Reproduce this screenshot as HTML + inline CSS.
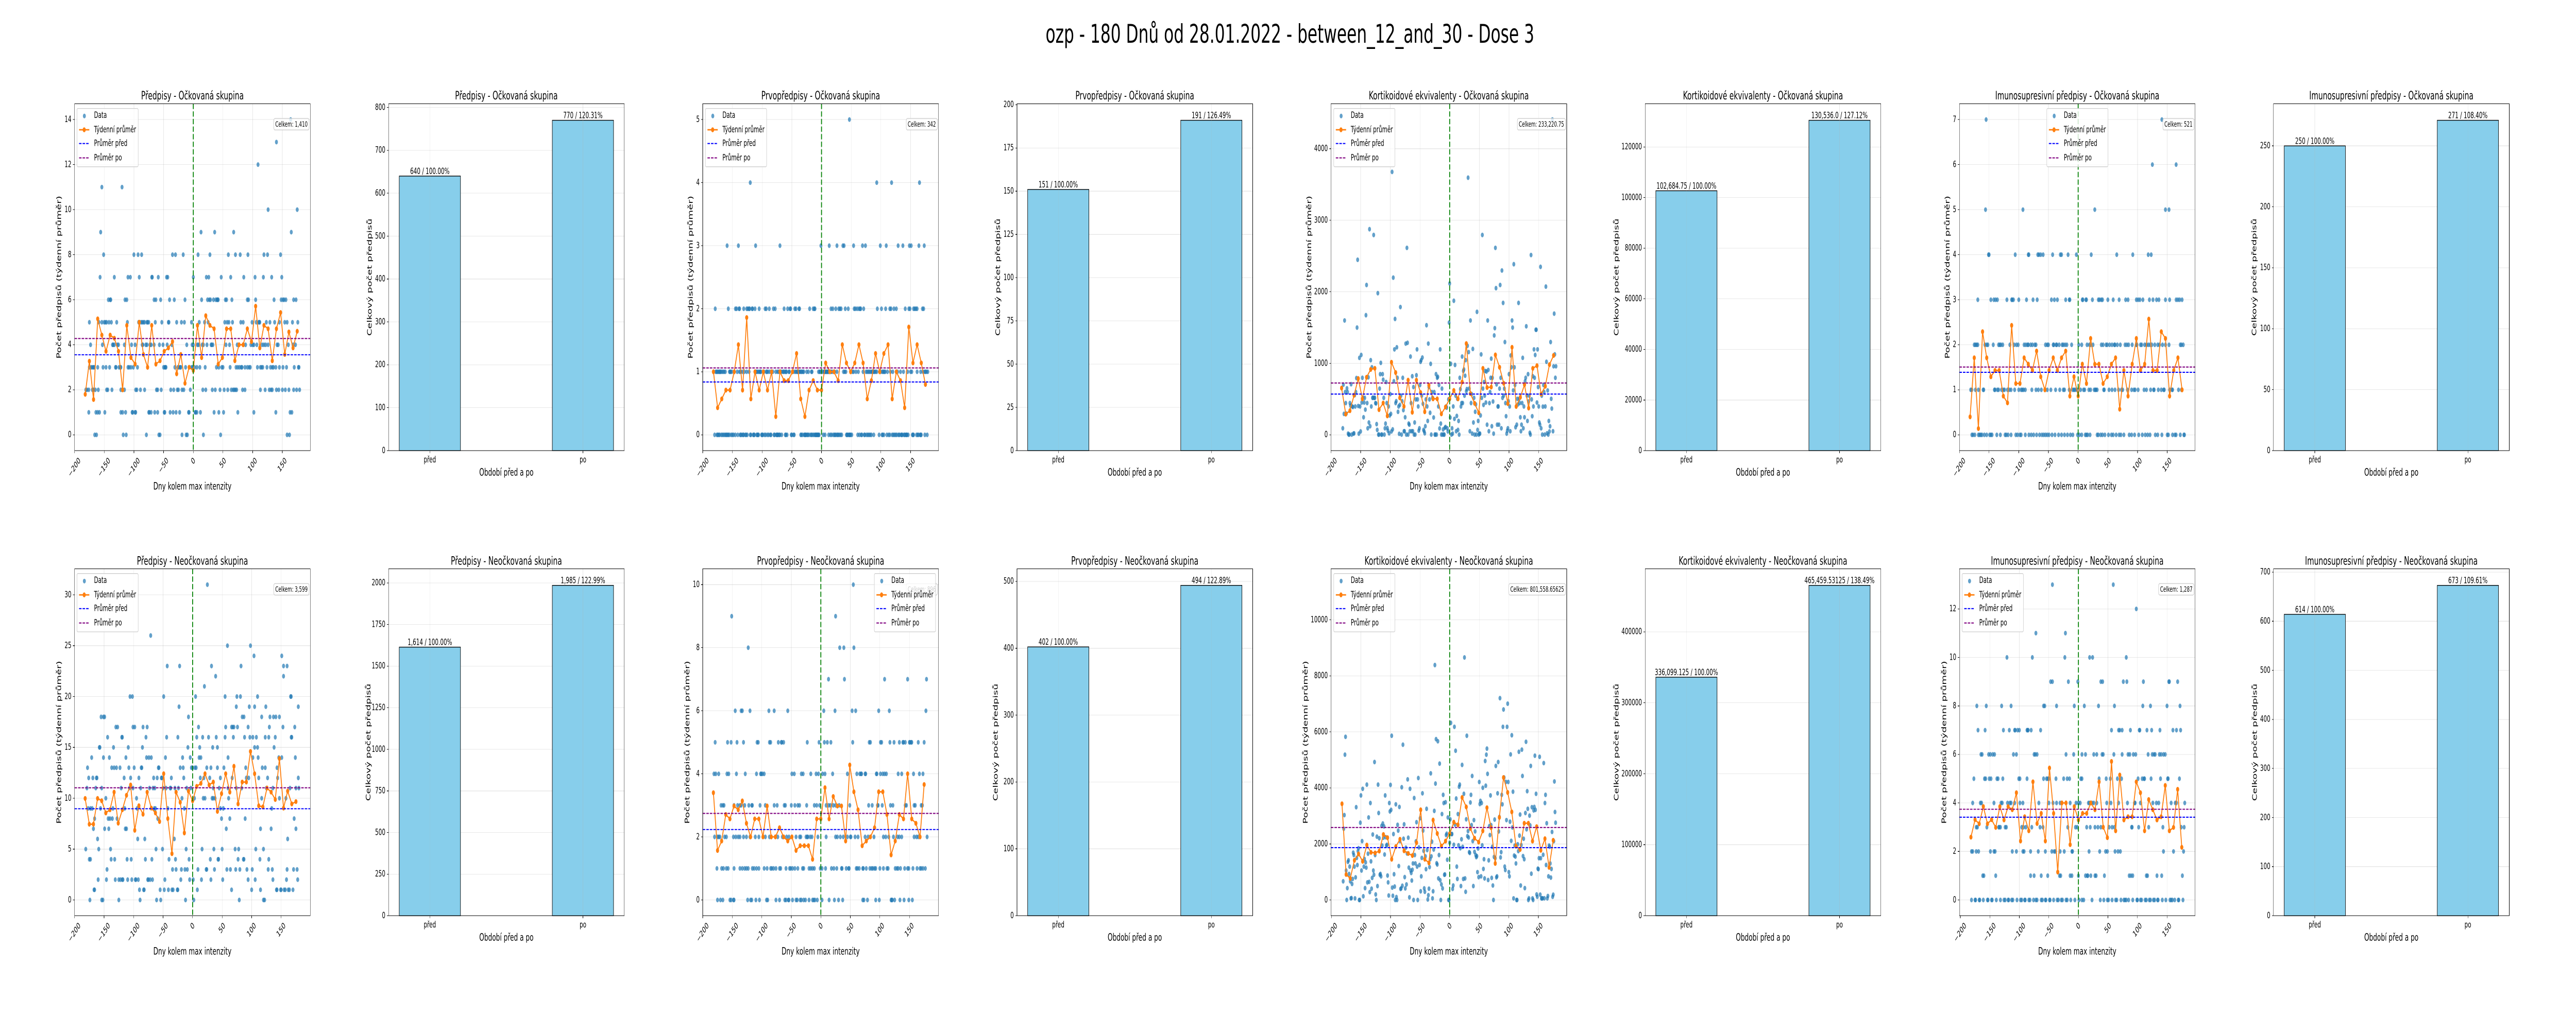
<!DOCTYPE html>
<html lang="cs">
<head>
<meta charset="utf-8">
<meta name="viewport" content="width=8000">
<title>ozp - 180 Dnů od 28.01.2022 - between_12_and_30 - Dose 3</title>
<style>
html,body{margin:0;padding:0;background:#fff;width:100%;height:100%;overflow:hidden}
svg{display:block;width:100vw;height:100vh}
text{font-family:"DejaVu Sans","Liberation Sans",sans-serif;fill:#000}
</style>
</head>
<body>
<svg id="figure" xmlns="http://www.w3.org/2000/svg" viewBox="0 0 8000 2000" preserveAspectRatio="none">
<rect x="0" y="0" width="8000" height="2000" fill="#fff"/>
<text x="4006" y="83" font-size="50" text-anchor="middle">ozp - 180 Dnů od 28.01.2022 - between_12_and_30 - Dose 3</text>
</svg>
<script>
/* ---------- shared categories and ticks ---------- */
const weekDays=[-182,-175,-168,-161,-154,-147,-140,-133,-126,-119,-112,-105,-98,-91,-84,-77,-70,-63,-56,-49,-42,-35,-28,-21,-14,-7,0,7,14,21,28,35,42,49,56,63,70,77,84,91,98,105,112,119,126,133,140,147,154,161,168,175];
const xTickValues=[-200,-150,-100,-50,0,50,100,150];
const periods=["před","po"];
const daysPerPeriod=[180];
const legendLabels=["Data","Týdenní průměr","Průměr před","Průměr po"];

/* ---------- Předpisy - Očkovaná ---------- */
const rxVacLevels=[14,13,12,11,10,9,8,7,6,5,4,3,2,1,0];
const rxVacDays=[
[164],[140],[109],[-154,-120],[126,175],[-156,13,36,68,165],
[-151,-100,-93,-87,-35,-30,-17,8,28,59,71,79,92,119,125,147],
[-157,-133,-110,-106,-91,-70,-69,-59,-45,-43,0,22,26,47,63,85,104,118,132,149],
[-143,-140,-139,-115,-112,-66,-63,-55,-40,-32,-14,14,24,27,29,34,38,40,41,42,54,56,65,91,93,105,136,148,151,153,156,169,173],
[-175,-159,-154,-150,-148,-146,-142,-138,-129,-111,-92,-88,-86,-84,-82,-78,-77,-75,-64,-53,-42,-41,-28,-20,-15,-3,10,19,25,53,57,60,66,80,84,99,106,110,111,112,123,129,137,145,154,158,167,176],
[-173,-153,-136,-135,-133,-128,-126,-116,-104,-98,-86,-85,-80,-78,-73,-71,-66,-57,-51,-44,-36,-11,-2,0,7,9,15,17,23,30,31,33,55,61,74,84,88,97,100,102,107,116,119,122,126,141,143,160,168,172],
[-175,-172,-170,-168,-167,-161,-152,-147,-141,-131,-130,-125,-123,-122,-110,-108,-105,-101,-94,-77,-50,-48,-47,-46,-31,-26,-24,-22,-21,-13,-3,-1,2,6,11,20,39,43,48,50,62,72,75,78,81,82,87,91,94,96,108,113,115,117,124,130,133,135,139,145,151,157,170,177,178],
[-181,-179,-176,-170,-168,-165,-160,-146,-144,-137,-122,-116,-97,-95,-89,-82,-62,-60,-54,-38,-33,-27,-25,-19,-16,-5,16,21,32,37,45,52,58,64,67,69,71,73,83,87,113,121,128,131,133,140,144,150,155,161,169,174,179],
[-176,-164,-161,-158,-149,-122,-119,-114,-103,-102,-98,-97,-75,-74,-71,-65,-60,-49,-48,-39,-34,-29,-23,-8,-7,3,4,6,12,35,43,51,75,102,139,163,166],
[-166,-163,-118,-113,-79,-58,-56,-19,-12,-10,17,46,158,162]
];
const rxVacWeekly=[1.8,3.27,1.57,5.15,4.43,3.71,4.43,4.29,3.71,2,4.86,3.43,3.14,5,3.57,3,4.86,3.14,3.29,3.71,3.86,4.14,2.71,3.57,2.29,3,2.86,4.86,3.43,5.29,4.86,4.71,3.14,3.43,4.71,4.71,3.29,4,4,4.71,4.14,5.71,3.86,4.86,4.71,3.29,4.71,5.43,3.57,4.57,3.86,4.6];
const rxVacTicks=[0,2,4,6,8,10,12,14];
const rxVacTotals=[640,770];
const rxVacTotalTicks=[0,100,200,300,400,500,600,700,800];
const rxVacBarLabels=["640 / 100.00%","770 / 120.31%"];

/* ---------- Prvopředpisy - Očkovaná ---------- */
const firstVacLevels=[5,4,3,2,1,0];
const firstVacDays=[
[47],[-120,93,118,165],
[-159,-140,-111,-70,-1,13,26,36,38,54,69,74,99,109,129,137,148,151,164,173],
[-179,-157,-145,-143,-139,-138,-131,-126,-124,-122,-121,-117,-116,-112,-105,-95,-93,-88,-81,-78,-63,-57,-53,-52,-45,-43,-38,-37,-20,-14,-12,-11,16,19,24,29,31,33,40,45,55,57,60,63,65,66,71,94,101,108,115,117,122,126,141,147,149,155,157,159,161,170,172],
[-178,-177,-175,-174,-172,-171,-170,-168,-166,-164,-162,-155,-154,-153,-151,-147,-142,-138,-136,-133,-130,-126,-122,-111,-110,-108,-106,-104,-103,-102,-97,-93,-92,-90,-87,-84,-82,-77,-74,-72,-69,-68,-65,-64,-62,-60,-59,-55,-54,-48,-45,-43,-41,-40,-39,-37,-36,-34,-33,-31,-30,-25,-22,-17,-16,-5,-3,-2,2,4,5,6,7,8,9,10,11,12,14,16,18,22,26,37,39,41,52,54,58,62,70,75,77,79,81,83,85,86,88,89,91,93,98,100,103,104,106,107,111,116,120,128,133,138,145,150,152,161,167,171,174,175,177,179],
[-180,-176,-175,-173,-172,-169,-167,-165,-163,-161,-160,-158,-157,-155,-152,-150,-148,-145,-141,-137,-136,-134,-132,-131,-128,-127,-125,-120,-119,-115,-114,-113,-109,-108,-107,-106,-101,-100,-99,-96,-94,-91,-89,-86,-85,-80,-79,-76,-75,-74,-73,-71,-70,-67,-61,-60,-58,-51,-50,-47,-46,-35,-34,-32,-29,-28,-27,-26,-24,-23,-21,-18,-17,-15,-13,-11,-10,-9,-8,-7,-6,-5,-4,3,6,12,15,17,20,22,23,25,27,28,30,32,34,42,43,44,46,47,48,49,51,61,64,67,68,72,73,76,78,80,82,84,88,97,102,103,105,110,113,115,119,121,123,125,127,130,131,134,135,136,139,140,142,143,144,146,153,154,155,160,162,163,166,167,168,174,178]
];
const firstVacWeekly=[1,0.43,0.57,0.71,0.71,1,1.43,0.71,1.86,0.57,1,0.71,1,0.71,1,0.29,1,0.86,0.86,1,1.29,0.57,0.29,0.71,0.86,0.71,0.71,1.14,1,1,0.86,1.43,1.14,1,1.14,1.43,1.14,0.57,0.86,1.29,1,1.29,1.43,0.57,1,0.86,0.43,1.71,1.14,1.43,1.14,0.8];
const firstVacTicks=[0,1,2,3,4,5];
const firstVacTotals=[151,191];
const firstVacTotalTicks=[0,25,50,75,100,125,150,175,200];
const firstVacBarLabels=["151 / 100.00%","191 / 126.49%"];

/* ---------- Kortikoidové ekvivalenty - Očkovaná (one value per day from -180) ---------- */
const steroidVacDaily=[
92,702,294,1599,599,445,298,651,599,18,4,4,445,408,709,4,397,390,18,22,555,397,599,794,1500,2448,404,18,1077,397,
48,1117,452,798,518,246,452,518,353,1673,2095,445,92,805,173,2875,121,1044,397,945,518,520,2794,518,518,445,440,151,70,1981,
4,4,647,849,1007,4,4,849,772,518,4,92,158,739,445,96,59,397,22,272,570,294,48,3676,77,2198,750,1195,1621,445,
471,1224,798,323,397,15,419,1787,548,4,471,798,346,51,51,246,1276,4,2614,1287,4,158,143,51,1095,445,51,820,51,669,
4,173,4,496,834,1195,496,397,59,92,698,1022,1044,548,1081,434,70,51,22,121,496,1533,397,195,1276,669,496,309,993,4,
599,518,510,243,599,4,4,849,4,798,812,397,698,90,1195,158,4,647,4,77,4,4,100,110,397,380,92,48,496,1570,
2117,243,993,4,92,18,397,1875,224,978,548,51,265,504,70,195,4,798,640,397,445,1095,445,893,915,548,827,1044,610,640,
1246,3595,1158,647,51,1599,445,570,18,1202,173,518,4,323,426,4,1720,70,195,4,18,18,272,1125,518,2794,647,419,739,548,
893,452,886,143,1599,908,51,445,599,798,1066,121,798,467,18,1390,1492,2614,2051,706,143,397,397,143,647,2095,798,92,2298,518,
1845,548,647,1298,445,261,18,59,92,471,849,397,51,1110,945,1599,1500,621,2386,945,698,107,397,143,504,426,1845,504,445,246,
51,143,445,1077,92,397,246,750,798,1518,548,195,849,467,548,29,4,2514,496,261,820,397,1195,798,1117,1470,1470,452,1195,669,
397,173,143,2349,92,548,4,395,698,599,4,397,2073,1022,22,621,4,195,48,120,1298,504,368,4408,51,959,1695,1125,798,959
];
const steroidVacWeekly=[654,290,338,555,787,504,805,915,930,353,445,265,1015,871,518,397,765,316,765,592,323,695,504,504,294,390,504,621,504,739,1276,577,441,309,930,662,669,1118,945,721,437,1224,397,526,702,375,930,967,570,680,982,1110];
const steroidVacTicks=[0,1000,2000,3000,4000];
const steroidVacTotals=[102684.75,130536];
const steroidVacTotalTicks=[0,20000,40000,60000,80000,100000,120000];
const steroidVacBarLabels=["102,684.75 / 100.00%","130,536.0 / 127.12%"];

/* ---------- Imunosupresivní předpisy - Očkovaná ---------- */
const immunoVacLevels=[7,6,5,4,3,2,1,0];
const immunoVacDays=[
[-155,141],[125,165],[-156,-93,28,147,153],
[-151,-150,-106,-84,-83,-68,-66,-63,-59,-43,-30,-28,-17,-3,22,65,92,118,123],
[-169,-147,-142,-139,-136,-120,-112,-111,-109,-100,-87,-76,-69,-45,-40,-35,-21,-15,-14,7,8,13,14,24,34,36,39,41,50,59,69,80,84,98,101,104,109,120,126,132,136,147,154,165,168,171,175],
[-175,-173,-171,-169,-157,-154,-152,-143,-134,-132,-130,-127,-115,-108,-104,-101,-91,-88,-85,-84,-80,-77,-73,-71,-55,-52,-50,-42,-41,-37,-36,-32,-27,-25,-22,-19,-11,1,6,15,19,21,25,39,42,47,49,53,57,61,62,66,71,79,82,85,91,98,99,105,107,112,115,118,121,124,129,134,137,142,147,153,172,174,177],
[-181,-179,-173,-168,-160,-159,-141,-140,-136,-134,-129,-126,-124,-119,-116,-113,-107,-100,-96,-94,-92,-89,-78,-71,-67,-62,-56,-52,-46,-38,-31,-25,-23,-15,-9,-7,-5,-2,4,9,11,18,21,27,29,30,32,43,44,52,57,62,68,73,75,83,90,94,96,101,111,115,122,127,128,135,140,144,145,154,158,159,169,174],
[-179,-177,-174,-168,-166,-164,-162,-158,-154,-149,-147,-145,-137,-131,-123,-121,-118,-113,-105,-102,-98,-96,-89,-83,-79,-75,-70,-65,-61,-58,-55,-52,-49,-44,-39,-33,-28,-23,-18,-13,-9,-1,2,6,12,14,16,20,32,34,38,41,45,51,56,59,64,69,72,77,86,90,95,102,108,113,117,121,130,134,141,150,152,159,163,165,172,178,179]
];
const immunoVacWeekly=[0.4,1.71,0.14,2.29,1.71,1.29,1.43,1.43,0.86,0.71,2.43,1.14,1.14,1.71,1.57,1.43,1.86,1.29,1,1.43,1.71,1.43,1.71,1.86,0.86,1.29,0.86,1.57,1.14,2.14,1.57,1.57,1.14,1.29,1.57,1.71,0.57,1.43,0.86,1.57,2.14,1.43,1.57,2.57,1.43,1.43,2.29,2.14,0.86,1.43,1.71,1];
const immunoVacTicks=[0,1,2,3,4,5,6,7];
const immunoVacTotals=[250,271];
const immunoVacTotalTicks=[0,50,100,150,200,250];
const immunoVacBarLabels=["250 / 100.00%","271 / 108.40%"];

/* ---------- Předpisy - Neočkovaná ---------- */
const rxUnvLevels=[31,26,25,24,23,22,21,20,19,18,17,16,15,14,13,12,11,10,9,8,7,6,5,4,3,2,1,0];
const rxUnvDays=[
[25],[-71],[59,98],[104,151],[-43,-22,32,82,154,160],[39,154],[20],
[-106,-102,-49,5,55,75,81,110,166,167],
[-23,74,96,105,124,179],
[-155,-151,-149,-7,84,87,117,131,137,141,147],
[-130,-127,-101,-98,-84,-77,10,56,66,68,70,76,94,130,153,173],
[-144,-120,-119,-79,-44,-25,7,17,27,40,55,69,88,97,102,108,123,129,140,167,168],
[-158,-157,-134,-109,-85,-8,12,34,42,105,110,138],
[-171,-151,-141,-113,-78,-74,-70,-46,-17,-4,11,14,60,102,111,146,151,174],
[-178,-137,-133,-129,-123,-108,-99,-87,-86,-58,-57,-21,-16,-2,0,4,6,24,31,42,53,90,118,123,143],
[-176,-169,-163,-162,-116,-105,-91,-66,-60,-53,-52,-36,-15,13,19,29,47,67,91,95,112,127,144,179],
[-179,-164,-154,-121,-107,-101,-88,-73,-67,-64,-50,-45,-38,-37,-30,-24,-10,-3,35,45,60,74,83,125,136,165,175,180],
[-147,-95,-18,3,18,21,33,35,38,61,117,147,158],
[-177,-173,-170,-156,-135,-115,-94,-65,-63,-42,-14,47,52,134],
[-166,-143,-140,-136,-128,-59,49,63,89,172],
[-168,-149,-142,-114,-112,57,115,133,175],
[-161,-93,-81,-31,161],
[-181,-159,-139,-62,-51,-11,16,36,50,72,78,107,120],
[-175,-173,-138,-132,-111,-104,-80,-69,-40,-29,-6,30,43,44,77,86,87,114,129],
[-145,-34,-28,-19,-13,-9,9,23,24,37,58,64,73,80,92,101,128,135,160,171,177],
[-160,-146,-131,-125,-122,-119,-118,-110,-103,-97,-96,-92,-76,-75,-72,-68,-47,-20,-5,1,15,31,51,94,106,136,159,178],
[-167,-166,-90,-83,-82,-55,-48,-41,-35,-33,-26,-25,8,66,100,115,142,143,149,150,155,157,162,164,170],
[-174,-154,-152,-125,-89,-61,-54,-12,2,79,120,122]
];
const rxUnvWeekly=[9.98,7.45,7.45,9.98,9.75,8.56,8.87,10.6,7.55,8.87,10.29,11.3,6.85,9.26,8.43,10.6,9.03,8.56,7.71,12.41,8,4.55,10.6,9.6,6.59,10.7,9.75,11.17,11.46,12.41,11.3,11.59,8.71,10.45,12.41,10.6,13.14,9.44,11.59,11.59,14.6,12.41,9.26,9.15,11,10.6,9.88,13.9,9.03,10.7,9.44,9.67];
const rxUnvTicks=[0,5,10,15,20,25,30];
const rxUnvTotals=[1614,1985];
const rxUnvTotalTicks=[0,250,500,750,1000,1250,1500,1750,2000];
const rxUnvBarLabels=["1,614 / 100.00%","1,985 / 122.99%"];

/* ---------- Prvopředpisy - Neočkovaná ---------- */
const firstUnvLevels=[10,9,8,7,6,5,4,3,2,1,0];
const firstUnvDays=[
[55],[-151,25],[-123,32,39,56],[13,40,108,147,179],
[-145,-135,-133,-120,-88,-79,-56,5,24,53,59,98,116,178],
[-179,-158,-152,-142,-131,-108,-106,-87,-85,-72,-67,-66,-63,-23,-3,6,11,17,54,82,84,101,103,117,124,133,139,140,143,150,151,153,154,165,175],
[-181,-178,-173,-159,-156,-143,-128,-109,-102,-101,-99,-96,-49,-45,-33,-30,-17,-8,-4,3,7,20,45,61,66,68,69,75,76,94,95,101,105,108,111,131,137,157,167,173],
[-169,-166,-164,-147,-141,-137,-135,-129,-122,-117,-116,-103,-94,-79,-74,-62,-60,-50,-44,-39,-36,-24,-11,-7,-2,9,13,16,21,25,31,49,81,87,96,97,104,118,122,143,145,158,160,170,172],
[-180,-175,-173,-171,-163,-160,-148,-144,-140,-137,-131,-126,-120,-111,-105,-98,-94,-87,-84,-73,-65,-63,-58,-54,-42,-36,-34,-25,-23,-22,-18,-15,-5,9,25,28,33,38,45,50,51,58,63,75,80,90,106,110,115,123,130,133,137,158,162,165,168,180],
[-176,-168,-165,-160,-157,-147,-137,-133,-129,-126,-123,-116,-113,-109,-105,-96,-91,-85,-83,-80,-76,-70,-68,-59,-53,-51,-48,-44,-39,-31,-29,-20,-17,-14,-11,-1,2,8,18,22,27,35,36,43,47,48,60,62,65,71,72,77,83,86,88,91,93,100,106,112,114,126,129,131,135,142,147,149,156,163,168,170,173,177],
[-175,-170,-166,-154,-152,-148,-147,-124,-119,-117,-110,-104,-92,-90,-76,-70,-61,-59,-55,-54,-48,-42,-40,-35,-33,-29,-26,-20,-14,-12,-10,-6,2,14,23,30,37,71,73,79,93,99,119,120,121,125,134,141,149,155]
];
const firstUnvWeekly=[3.4,1.57,1.87,2.71,2.57,2.98,2.86,3.14,2.43,2,2.57,2.57,2,2.98,2,2,2.29,2,1.87,2,1.57,1.72,1.72,1.72,1.29,2.57,2.57,3.56,2.57,3.28,2.98,2.98,1.87,4.28,3.43,2.86,1.72,1.87,2,2.29,3.43,3.43,2.71,1.43,1.87,2.71,2.57,4,2.57,2.43,2,3.66];
const firstUnvTicks=[0,2,4,6,8,10];
const firstUnvTotals=[402,494];
const firstUnvTotalTicks=[0,100,200,300,400,500];
const firstUnvBarLabels=["402 / 100.00%","494 / 122.89%"];

/* ---------- Kortikoidové ekvivalenty - Neočkovaná (one value per day from -180) ---------- */
const steroidUnvDaily=[
666,2542,3030,5187,5825,1051,0,422,1360,1416,929,1191,666,56,66,572,750,1688,1604,1191,56,807,3311,1501,1248,1745,1848,0,0,2758,
3733,1051,2101,3968,131,1191,1463,422,1341,1154,4118,628,1651,2945,647,281,3461,1379,403,788,2336,1051,900,4925,1604,197,0,2261,497,4118,
3105,2204,900,929,844,2645,1942,2730,2223,2626,1623,3733,2242,1942,1970,872,628,159,3461,3161,4108,3217,5862,441,150,2354,919,478,0,3414,
103,0,2683,2476,1210,3320,2101,394,413,4024,507,5544,2186,2701,816,413,1867,553,1660,4305,2223,1154,94,3968,1051,966,694,1079,1304,0,
3639,1604,1304,2092,2776,1191,0,4352,1876,1248,2917,310,844,1501,3808,2476,1754,413,291,1557,1098,3255,1782,19,169,403,1173,1454,4521,1557,
2082,56,310,1801,3180,8386,4155,5741,1313,1266,5666,769,1604,4868,703,0,553,3067,413,3752,3461,900,910,3489,2317,2364,1435,2945,0,0,
2045,2880,6322,2354,2354,394,516,1970,6181,2692,5328,3621,1191,750,3067,1951,4043,4118,1848,497,2167,4821,1895,750,3789,8658,769,291,2880,5862,
2279,2458,2232,1707,1679,3480,3752,2673,4427,2101,497,2851,1716,2448,1604,1529,1566,994,1838,816,4212,3424,3536,844,3461,1951,4005,1107,1454,769,
4962,4080,5187,5403,4502,713,1416,2636,2317,3733,2673,788,1895,516,0,1538,2870,1491,4784,807,844,3808,4925,2448,2964,7204,1519,1707,3752,3414,
6181,6800,4371,1191,1069,4212,2851,6181,7007,4212,994,844,2795,5197,2111,5881,2589,3865,56,1585,1942,1548,1304,0,0,1989,1745,5290,2298,3049,
516,1960,5366,4427,1566,2186,1454,422,3105,5647,2523,3883,3255,0,56,3011,2664,4784,938,3311,56,0,3199,3320,5150,3217,3789,197,113,1116,
1100,1491,5112,190,1491,56,56,60,1613,4887,60,3461,3752,1250,2739,56,141,844,1942,1900,1304,800,1107,2429,113,188,2100,4230,3142,2758
];
const steroidUnvWeekly=[3433,910,769,1416,1642,1379,1960,1698,1679,1745,2336,2223,1454,1904,2167,1754,1660,1585,2045,3218,1454,1323,2852,2373,1923,2101,2364,2777,2683,3658,3321,2552,2205,2064,2467,3293,2580,1304,2946,4371,3837,3143,1923,1801,2739,2739,2101,2617,1773,2186,1163,2129];
const steroidUnvTicks=[0,2000,4000,6000,8000,10000];
const steroidUnvTotals=[336099.125,465459.53125];
const steroidUnvTotalTicks=[0,100000,200000,300000,400000];
const steroidUnvBarLabels=["336,099.125 / 100.00%","465,459.53125 / 138.49%"];

/* ---------- Imunosupresivní předpisy - Neočkovaná ---------- */
const immunoUnvLevels=[13,12,11,10,9,8,7,6,5,4,3,2,1,0];
const immunoUnvDays=[
[-44,59],[98],[-72,-22],[-121,-78,-23,19,24,81],
[-47,-44,-17,-1,38,41,76,82,110,153,154,168],
[-172,-156,-130,-114,-59,-57,-37,-7,10,34,61,109,122,150,172],
[-170,-158,-127,-117,-108,-107,-103,-100,-87,-86,-85,-80,-64,56,68,70,74,88,103,104,116,124,138,160,166,173],
[-165,-163,-152,-149,-145,-142,-110,-105,-75,-73,-70,-21,-8,6,12,26,31,40,42,60,74,84,87,93,97,118,125,128,130,137,140,144,147],
[-177,-159,-157,-151,-148,-138,-136,-128,-101,-99,-87,-59,-54,-52,-50,-38,-25,-19,-15,4,6,35,47,54,66,73,101,108,111,112,123,139,151,152,171],
[-179,-166,-164,-143,-131,-129,-120,-116,-114,-108,-99,-94,-67,-50,-43,-37,-31,-28,-14,-4,0,3,17,19,23,26,31,48,55,68,83,95,96,105,126,132,136,157,164,166,180],
[-173,-171,-155,-135,-134,-132,-124,-122,-96,-93,-89,-79,-65,-60,-18,-5,-2,14,20,28,33,38,52,57,61,90,91,102,119,143,174,179],
[-181,-179,-173,-169,-149,-143,-141,-112,-105,-94,-92,-81,-68,-56,-45,-41,-39,-31,-24,-11,-10,18,36,46,49,62,67,71,144,161,178],
[-162,-160,-140,-81,-75,-63,-52,-32,-30,-14,-11,0,12,15,16,21,28,30,44,86,89,92,115,117,133,141,176],
[-181,-175,-174,-168,-167,-161,-154,-153,-147,-146,-139,-132,-126,-124,-119,-118,-113,-111,-104,-98,-96,-91,-90,-84,-82,-76,-72,-70,-63,-61,-56,-55,-49,-48,-42,-36,-34,-29,-27,-21,-19,-13,-6,1,6,9,23,37,43,49,51,57,63,65,72,77,79,81,85,92,99,100,105,107,113,115,120,122,127,129,134,135,142,148,155,157,159,163,169,170,177]
];
const immunoUnvWeekly=[2.59,3.31,3.14,3.85,3.14,3.31,2.99,3.85,3.3,3.85,3.72,4.42,2.43,3.43,2.85,4.87,3.15,3.57,2.43,5.44,3.57,1.15,4,4,2.28,3.85,3.3,3.57,3.57,4,3.72,4.87,3,2.57,5.71,2.85,5.15,3.3,3.43,3.43,4.87,4.42,2.85,4.14,3.72,3.3,3.43,4.72,2.85,2.99,4.56,2.17];
const immunoUnvTicks=[0,2,4,6,8,10,12];
const immunoUnvTotals=[614,673];
const immunoUnvTotalTicks=[0,100,200,300,400,500,600,700];
const immunoUnvBarLabels=["614 / 100.00%","673 / 109.61%"];

/* ---------- layout ---------- */
const SVGNS='http://www.w3.org/2000/svg';
const figure=document.getElementById('figure');
const columnLeft=[231.5,1206.6,2182.5,3158.2,4133.3,5109,6085.1,7060.5];
const rowTop=[201.5,1104.6];
const AX_W=732.1, AX_H=673.5;

const scatterPanels=[
{key:'prescriptions-vaccinated',title:'Předpisy - Očkovaná skupina',row:0,col:0,ylim:[-0.7,14.7],xlim:[-200,197],levels:rxVacLevels,days:rxVacDays,weekly:rxVacWeekly,ticks:rxVacTicks,totals:rxVacTotals,total:'Celkem: 1,410',legendX:239,labelOff:48.5},
{key:'first-prescriptions-vaccinated',title:'Prvopředpisy - Očkovaná skupina',row:0,col:2,ylim:[-0.25,5.25],xlim:[-200,197],levels:firstVacLevels,days:firstVacDays,weekly:firstVacWeekly,ticks:firstVacTicks,totals:firstVacTotals,total:'Celkem: 342',legendX:2190.6,labelOff:37.8},
{key:'steroids-vaccinated',title:'Kortikoidové ekvivalenty - Očkovaná skupina',row:0,col:4,ylim:[-220,4628],xlim:[-200,197],daily:steroidVacDaily,weekly:steroidVacWeekly,ticks:steroidVacTicks,totals:steroidVacTotals,total:'Celkem: 233,220.75',legendX:4142,labelOff:68},
{key:'immuno-vaccinated',title:'Imunosupresivní předpisy - Očkovaná skupina',row:0,col:6,ylim:[-0.35,7.35],xlim:[-200,197],levels:immunoVacLevels,days:immunoVacDays,weekly:immunoVacWeekly,ticks:immunoVacTicks,totals:immunoVacTotals,total:'Celkem: 521',legendX:6356.5,labelOff:37},
{key:'prescriptions-unvaccinated',title:'Předpisy - Neočkovaná skupina',row:1,col:0,ylim:[-1.55,32.55],xlim:[-200,199.3],levels:rxUnvLevels,days:rxUnvDays,weekly:rxUnvWeekly,ticks:rxUnvTicks,totals:rxUnvTotals,total:'Celkem: 3,599',legendX:239,labelOff:48.5},
{key:'first-prescriptions-unvaccinated',title:'Prvopředpisy - Neočkovaná skupina',row:1,col:2,ylim:[-0.5,10.5],xlim:[-200,199.3],levels:firstUnvLevels,days:firstUnvDays,weekly:firstUnvWeekly,ticks:firstUnvTicks,totals:firstUnvTotals,total:'Celkem: 896',legendX:2715.3,labelOff:48.5},
{key:'steroids-unvaccinated',title:'Kortikoidové ekvivalenty - Neočkovaná skupina',row:1,col:4,ylim:[-563,11820],xlim:[-200.7,197.7],daily:steroidUnvDaily,weekly:steroidUnvWeekly,ticks:steroidUnvTicks,totals:steroidUnvTotals,total:'Celkem: 801,558.65625',legendX:4142,labelOff:79},
{key:'immuno-unvaccinated',title:'Imunosupresivní předpisy - Neočkovaná skupina',row:1,col:6,ylim:[-0.65,13.65],xlim:[-201.5,197.6],levels:immunoUnvLevels,days:immunoUnvDays,weekly:immunoUnvWeekly,ticks:immunoUnvTicks,totals:immunoUnvTotals,total:'Celkem: 1,287',legendX:6093.6,labelOff:48}
];
const barPanels=[
{key:'prescriptions-vaccinated',title:'Předpisy - Očkovaná skupina',row:0,col:1,ymax:808.5,totals:rxVacTotals,ticks:rxVacTotalTicks,labels:rxVacBarLabels,labelOff:58.6},
{key:'first-prescriptions-vaccinated',title:'Prvopředpisy - Očkovaná skupina',row:0,col:3,ymax:200.55,totals:firstVacTotals,ticks:firstVacTotalTicks,labels:firstVacBarLabels,labelOff:59},
{key:'steroids-vaccinated',title:'Kortikoidové ekvivalenty - Očkovaná skupina',row:0,col:5,ymax:137063,totals:steroidVacTotals,ticks:steroidVacTotalTicks,labels:steroidVacBarLabels,labelOff:89},
{key:'immuno-vaccinated',title:'Imunosupresivní předpisy - Očkovaná skupina',row:0,col:7,ymax:284.55,totals:immunoVacTotals,ticks:immunoVacTotalTicks,labels:immunoVacBarLabels,labelOff:60},
{key:'prescriptions-unvaccinated',title:'Předpisy - Neočkovaná skupina',row:1,col:1,ymax:2084.25,totals:rxUnvTotals,ticks:rxUnvTotalTicks,labels:rxUnvBarLabels,labelOff:63},
{key:'first-prescriptions-unvaccinated',title:'Prvopředpisy - Neočkovaná skupina',row:1,col:3,ymax:518.7,totals:firstUnvTotals,ticks:firstUnvTotalTicks,labels:firstUnvBarLabels,labelOff:66},
{key:'steroids-unvaccinated',title:'Kortikoidové ekvivalenty - Neočkovaná skupina',row:1,col:5,ymax:488732.5,totals:steroidUnvTotals,ticks:steroidUnvTotalTicks,labels:steroidUnvBarLabels,labelOff:89},
{key:'immuno-unvaccinated',title:'Imunosupresivní předpisy - Neočkovaná skupina',row:1,col:7,ymax:706.65,totals:immunoUnvTotals,ticks:immunoUnvTotalTicks,labels:immunoUnvBarLabels,labelOff:58}
];

/* ---------- helpers ---------- */
function mk(parent,tag,attrs,content){
  const node=document.createElementNS(SVGNS,tag);
  for(const k in attrs){node.setAttribute(k,attrs[k]);}
  if(content!==undefined){node.textContent=content;}
  parent.appendChild(node);
  return node;
}
function linear(domain,range){
  return function(v){return range[0]+(v-domain[0])/(domain[1]-domain[0])*(range[1]-range[0]);};
}
function minusText(v){return v<0?'\u2212'+Math.abs(v):String(v);}

function drawFrame(g,L,T,title,xlabel,ylabel,labelOff,xlabelY){
  const ttl=mk(g,'text',{x:L+AX_W/2,y:T-8.3,'font-size':22.2,'text-anchor':'middle'},title);
  
  
  const xl=mk(g,'text',{x:L+AX_W/2,y:xlabelY,'font-size':19.44,'text-anchor':'middle','dominant-baseline':'central'},xlabel);
  
  
  const yx=L-labelOff, yy=T+AX_H/2;
  const yl=mk(g,'text',{x:yx,y:yy,'font-size':19.44,'text-anchor':'middle','dominant-baseline':'central',transform:'rotate(-90 '+yx+' '+yy+')'},ylabel);
  
  
}
function drawSpines(g,L,T){
  const sp=mk(g,'rect',{x:L,y:T,width:AX_W,height:AX_H,fill:'none',stroke:'#000','stroke-width':1.2,'shape-rendering':'crispEdges'});
  
  
}
function drawYAxis(g,L,ticks,yPos){
  ticks.forEach(function(t){
    const y=yPos(t);
    const gl=mk(g,'line',{x1:L,x2:L+AX_W,y1:y,y2:y,stroke:'#b0b0b0','stroke-opacity':0.3,'stroke-width':1.1,'shape-rendering':'crispEdges'});
    
    
    const tk=mk(g,'line',{x1:L-4.86,x2:L,y1:y,y2:y,stroke:'#000','stroke-width':1.1,'shape-rendering':'crispEdges'});
    
    
    const lb=mk(g,'text',{x:L-9.7,y:y,'font-size':16.67,'text-anchor':'end','dominant-baseline':'central'},minusText(t));
    
    
  });
}

/* ---------- scatter panels ---------- */
function drawScatterPanel(p){
  const L=columnLeft[p.col], T=rowTop[p.row], B=T+AX_H;
  const xPos=linear(p.xlim,[L,L+AX_W]);
  const yPos=linear(p.ylim,[B,T]);
  const g=mk(figure,'g',{});
  
  
  drawFrame(g,L,T,p.title,'Dny kolem max intenzity','Počet předpisů (týdenní průměr)',p.labelOff,B+69);

  xTickValues.forEach(function(t){
    const x=xPos(t);
    const gl=mk(g,'line',{x1:x,x2:x,y1:T,y2:B,stroke:'#b0b0b0','stroke-opacity':0.3,'stroke-width':1.1,'shape-rendering':'crispEdges'});
    
    
    const tk=mk(g,'line',{x1:x,x2:x,y1:B,y2:B+4.86,stroke:'#000','stroke-width':1.1,'shape-rendering':'crispEdges'});
    
    
    const lb=mk(g,'text',{x:x,y:B+30,'font-size':16.67,'text-anchor':'middle','dominant-baseline':'central'},minusText(t));
    
    
    const w=lb.getComputedTextLength();
    const off=12.2+(w+12.7)*0.3535;
    lb.setAttribute('y',B+off);
    lb.setAttribute('transform','rotate(-45 '+x+' '+(B+off)+')');
  });
  drawYAxis(g,L,p.ticks,yPos);

  const dots=mk(g,'g',{fill:'#1f77b4','fill-opacity':0.7});
  
  
  function addDot(day,value){
    const c=mk(dots,'circle',{cx:xPos(day),cy:yPos(value),r:4.6});
    
    
  }
  if(p.daily){
    p.daily.forEach(function(v,i){addDot(-180+i,v);});
  }else{
    p.levels.forEach(function(level,i){
      p.days[i].forEach(function(d){addDot(d,level);});
    });
  }

  const pts=p.weekly.map(function(v,i){return xPos(weekDays[i]).toFixed(2)+','+yPos(v).toFixed(2);}).join(' ');
  const wl=mk(g,'polyline',{points:pts,fill:'none',stroke:'#ff7f0e','stroke-width':2.78,'stroke-linejoin':'round'});
  
  
  p.weekly.forEach(function(v,i){
    const m=mk(g,'circle',{cx:xPos(weekDays[i]),cy:yPos(v),r:4.8,fill:'#ff7f0e'});
    
    
  });

  const yBefore=yPos(p.totals[0]/daysPerPeriod[0]);
  const before=mk(g,'line',{x1:L,x2:L+AX_W,y1:yBefore,y2:yBefore,stroke:'#0000ff','stroke-width':2.08,'stroke-dasharray':'7.7 3.3'});
  
  
  const yAfter=yPos(p.totals[1]/daysPerPeriod[0]);
  const after=mk(g,'line',{x1:L,x2:L+AX_W,y1:yAfter,y2:yAfter,stroke:'#800080','stroke-width':2.08,'stroke-dasharray':'7.7 3.3'});
  
  
  const x0=xPos(0);
  const vline=mk(g,'line',{x1:x0,x2:x0,y1:T,y2:B,stroke:'#008000','stroke-width':2.78,'stroke-dasharray':'10.3 4.4'});
  
  

  /* total annotation */
  const textRight=L+AX_W-8.2, cy=T+39.7;
  const box=mk(g,'rect',{y:cy-11.2,height:22.4,rx:4,ry:4,fill:'#fff','fill-opacity':0.8,stroke:'#c8c8c8','stroke-width':1.3});
  
  
  const tot=mk(g,'text',{x:textRight,y:cy,'font-size':13.89,'text-anchor':'end','dominant-baseline':'central'},p.total);
  
  
  const tw=tot.getComputedTextLength();
  box.setAttribute('x',textRight-tw-4.6);
  box.setAttribute('width',tw+9.2);

  drawSpines(g,L,T);

  /* legend */
  const lx=p.legendX, ly=T+9.1;
  const lg=mk(g,'g',{});
  
  
  const fr=mk(lg,'rect',{x:lx,y:ly,width:190.2,height:113.2,rx:3,ry:3,fill:'#fff','fill-opacity':0.8,stroke:'#cccccc','stroke-width':1.3});
  
  
  const rowOffsets=[13.6,41.4,68.1,96];
  const hd=mk(lg,'circle',{cx:lx+23,cy:ly+rowOffsets[0]+1,r:4.6,fill:'#1f77b4','fill-opacity':0.7});
  
  
  const h1=mk(lg,'line',{x1:lx+6.5,x2:lx+38.4,y1:ly+rowOffsets[1],y2:ly+rowOffsets[1],stroke:'#ff7f0e','stroke-width':2.78});
  
  
  const h1m=mk(lg,'circle',{cx:lx+22.5,cy:ly+rowOffsets[1],r:4.8,fill:'#ff7f0e'});
  
  
  const h2=mk(lg,'line',{x1:lx+6.5,x2:lx+38.4,y1:ly+rowOffsets[2],y2:ly+rowOffsets[2],stroke:'#0000ff','stroke-width':2.08,'stroke-dasharray':'7.7 3.3'});
  
  
  const h3=mk(lg,'line',{x1:lx+6.5,x2:lx+38.4,y1:ly+rowOffsets[3],y2:ly+rowOffsets[3],stroke:'#800080','stroke-width':2.08,'stroke-dasharray':'7.7 3.3'});
  
  
  legendLabels.forEach(function(txt,i){
    const t=mk(lg,'text',{x:lx+53,y:ly+rowOffsets[i],'font-size':16.67,'dominant-baseline':'central'},txt);
    
    
  });
}

/* ---------- bar panels ---------- */
function drawBarPanel(p){
  const L=columnLeft[p.col], T=rowTop[p.row], B=T+AX_H;
  const xPos=linear([-0.27,1.27],[L,L+AX_W]);
  const yPos=linear([0,p.ymax],[B,T]);
  const g=mk(figure,'g',{});
  
  
  drawFrame(g,L,T,p.title,'Období před a po','Celkový počet předpisů',p.labelOff,B+42);
  drawYAxis(g,L,p.ticks,yPos);

  periods.forEach(function(name,i){
    const x0=xPos(i-0.2), x1=xPos(i+0.2), y=yPos(p.totals[i]);
    const bar=mk(g,'rect',{x:x0,y:y,width:x1-x0,height:B-y,fill:'#87ceeb',stroke:'#000','stroke-width':1.39});
    
    
    const cx=xPos(i);
    const gl=mk(g,'line',{x1:cx,x2:cx,y1:T,y2:B,stroke:'#b0b0b0','stroke-opacity':0.3,'stroke-width':1.1,'shape-rendering':'crispEdges'});
    
    
    const tk=mk(g,'line',{x1:cx,x2:cx,y1:B,y2:B+4.86,stroke:'#000','stroke-width':1.1,'shape-rendering':'crispEdges'});
    
    
    const cat=mk(g,'text',{x:cx,y:B+18,'font-size':16.67,'text-anchor':'middle','dominant-baseline':'central'},name);
    
    
    const val=mk(g,'text',{x:cx,y:y-4,'font-size':16.67,'text-anchor':'middle'},p.labels[i]);
    
    
  });
  drawSpines(g,L,T);
}

scatterPanels.forEach(drawScatterPanel);
barPanels.forEach(drawBarPanel);
</script>
</body>
</html>
